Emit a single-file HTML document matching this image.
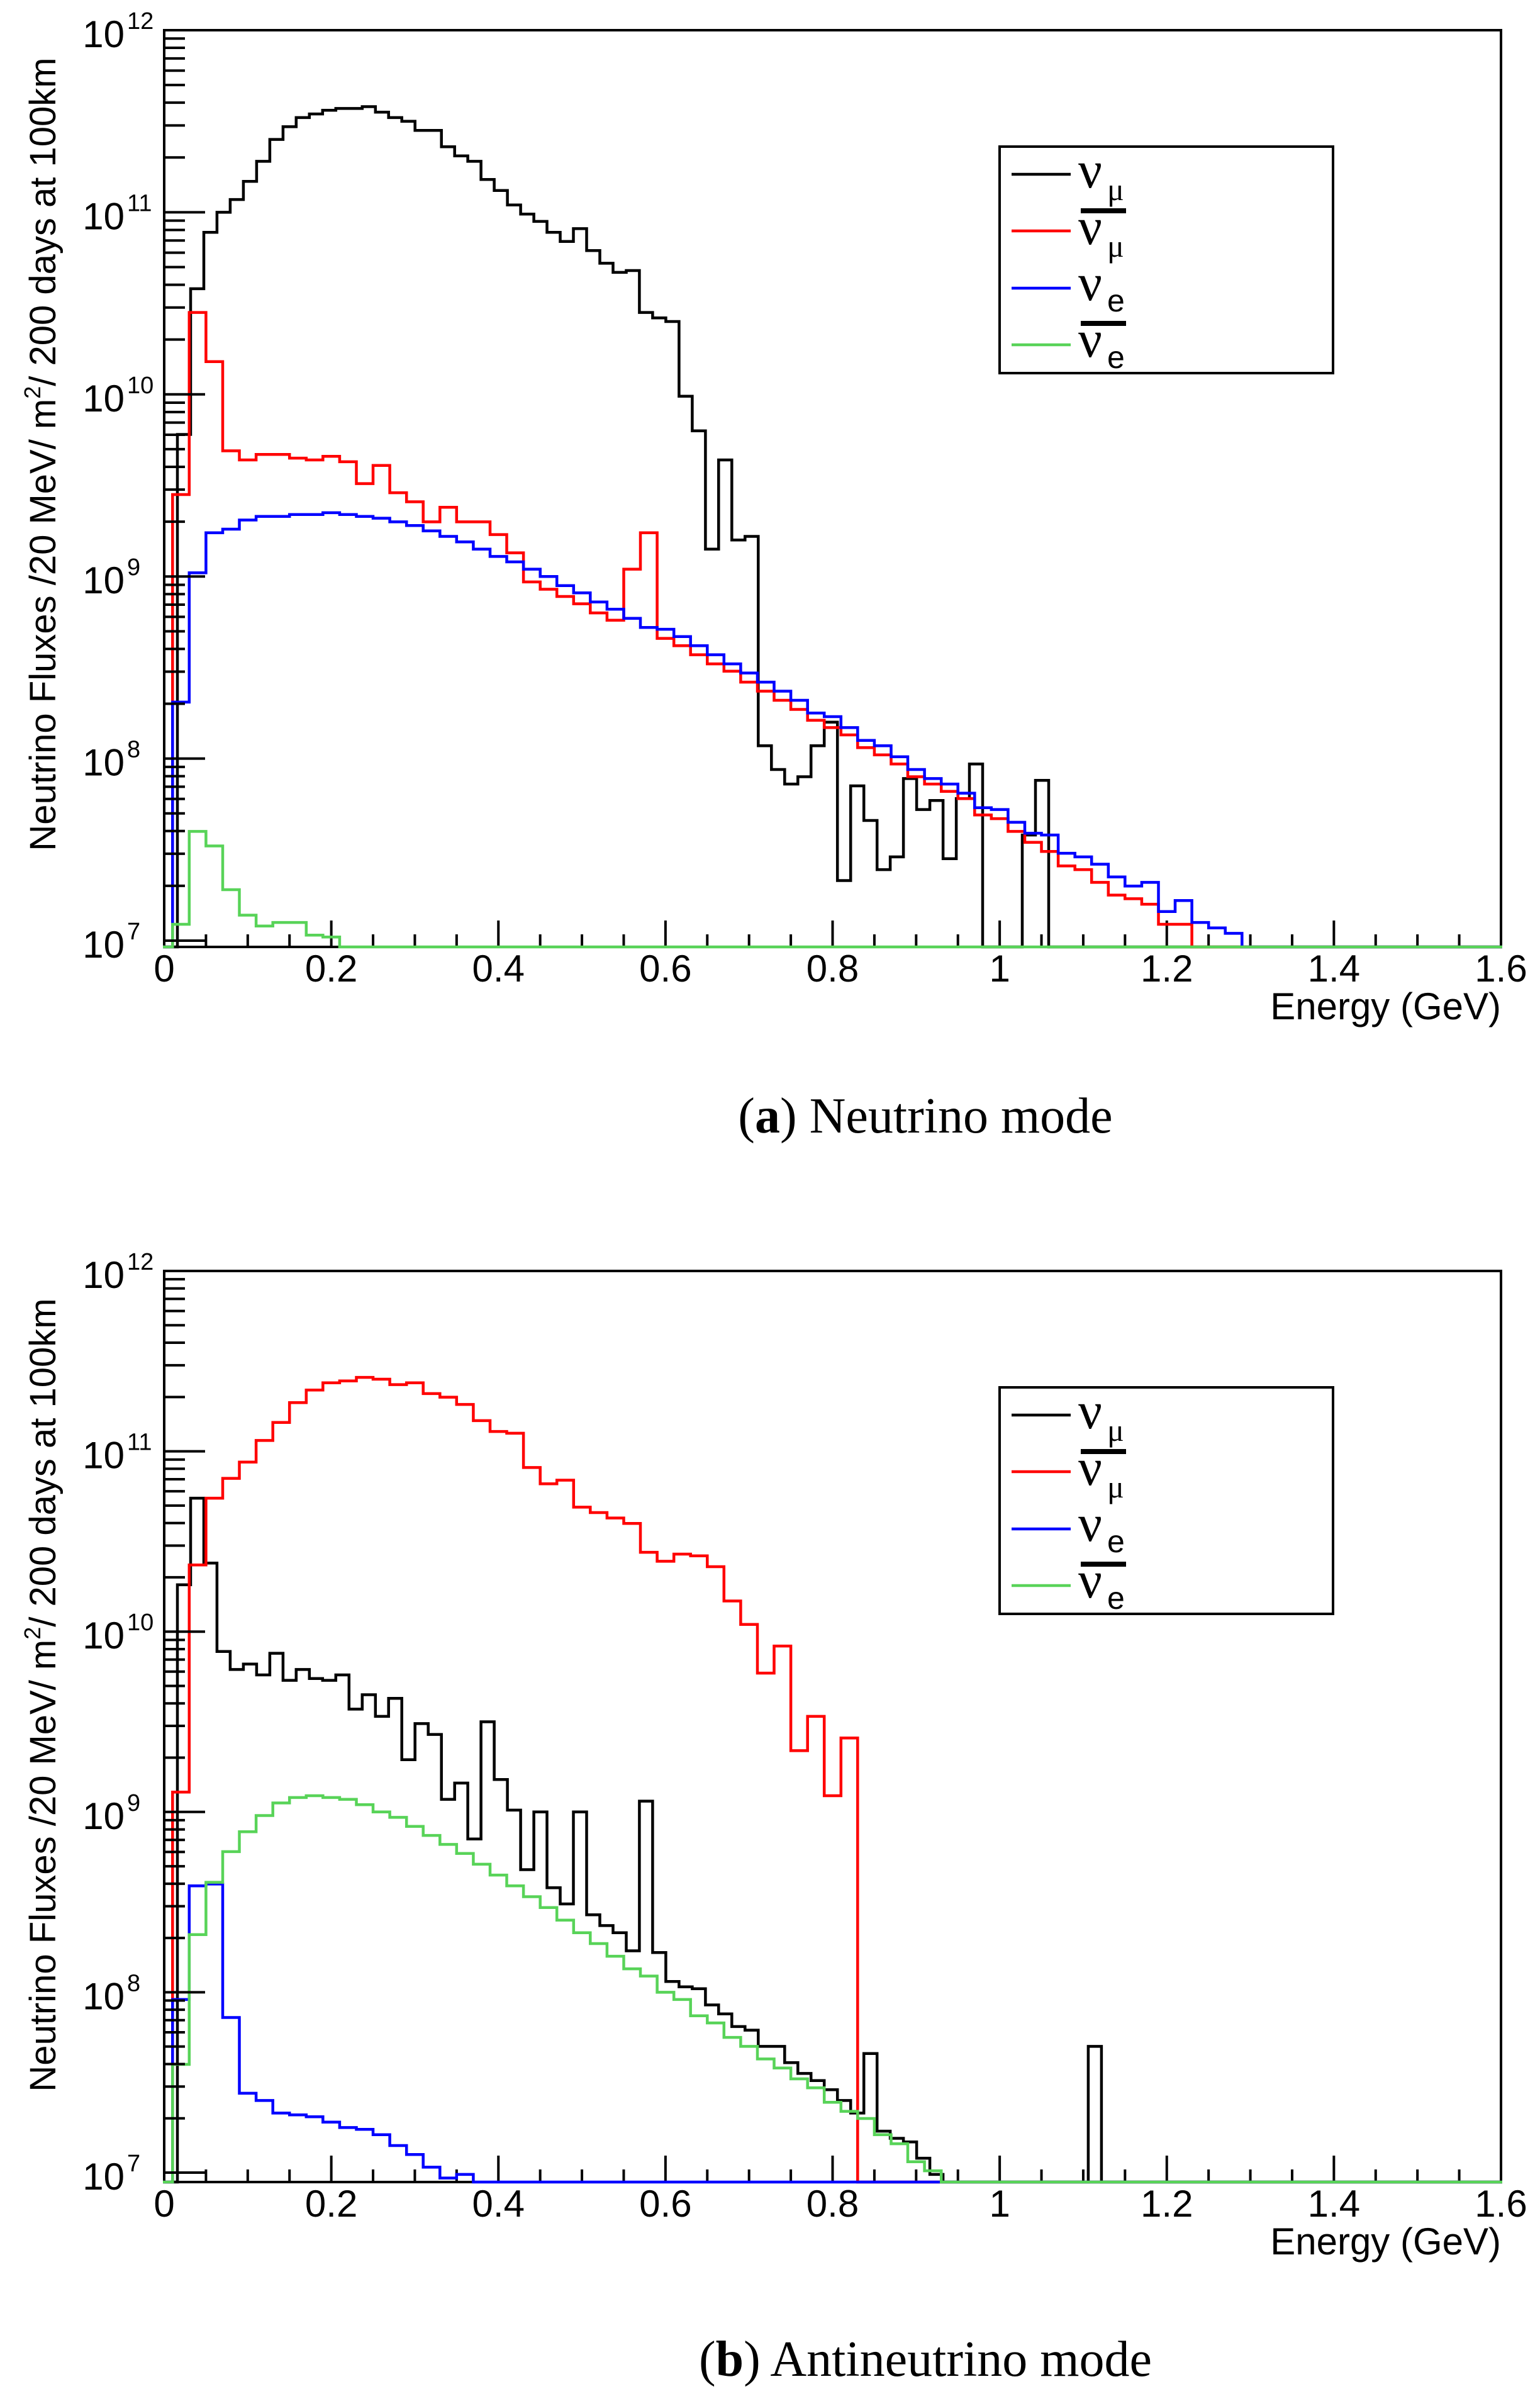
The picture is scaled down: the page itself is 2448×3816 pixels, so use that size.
<!DOCTYPE html>
<html><head><meta charset="utf-8"><title>Neutrino fluxes</title>
<style>
html,body{margin:0;padding:0;background:#fff;}
svg{display:block;}
text{font-family:"Liberation Sans",sans-serif;fill:#000;}
.serif{font-family:"Liberation Serif",serif;}
</style></head>
<body>
<svg id="chart" xmlns="http://www.w3.org/2000/svg" width="2448" height="3816" viewBox="0 0 2448 3816">
<rect x="0" y="0" width="2448" height="3816" fill="#fff"/>
</svg>
<script>
// ---------- data (log10 of flux per bin; null = empty bin) ----------
const binWidthMu = 0.0158;
const binWidthE = 0.02;

// Panel (a) neutrino mode
const aNumu = [null,9.78,10.58,10.89,11.00,11.07,11.17,11.28,11.40,11.47,11.52,11.54,11.56,11.57,11.57,11.58,11.55,11.52,11.50,11.45,11.45,11.36,11.31,11.28,11.18,11.12,11.04,10.99,10.95,10.89,10.84,10.91,10.79,10.72,10.67,10.68,10.45,10.42,10.40,9.99,9.80,9.15,9.64,9.20,9.22,8.07,7.94,7.86,7.90,8.07,8.20,7.33,7.85,7.66,7.39,7.46,7.89,7.72,7.77,7.45,7.78,7.97,null,null,null,7.58,7.88,null];
const aNumubar = [null,9.45,10.45,10.18,9.69,9.64,9.67,9.67,9.65,9.64,9.66,9.63,9.51,9.61,9.46,9.41,9.30,9.38,9.30,9.30,9.23,9.13,8.97,8.93,8.89,8.85,8.80,8.76,9.04,9.24,8.66,8.62,8.57,8.52,8.48,8.42,8.37,8.32,8.27,8.21,8.17,8.13,8.06,8.02,7.97,7.90,7.86,7.82,7.78,7.69,7.67,7.60,7.54,7.49,7.41,7.39,7.32,7.25,7.23,7.20,7.09,7.09,null];
const aNue = [null,8.31,9.02,9.24,9.26,9.31,9.33,9.33,9.34,9.34,9.35,9.34,9.33,9.32,9.30,9.28,9.25,9.22,9.19,9.15,9.11,9.08,9.04,9.00,8.95,8.91,8.86,8.82,8.77,8.72,8.71,8.67,8.62,8.57,8.52,8.47,8.42,8.37,8.32,8.25,8.23,8.17,8.10,8.07,8.01,7.94,7.89,7.86,7.81,7.73,7.72,7.65,7.59,7.58,7.48,7.46,7.42,7.35,7.30,7.32,7.16,7.22,7.10,7.07,7.04,null];
const aNuebar = [null,7.09,7.60,7.52,7.28,7.14,7.08,7.10,7.10,7.03,7.02,null];

// Panel (b) antineutrino mode
const bNumu = [null,10.26,10.74,10.38,9.89,9.79,9.82,9.76,9.88,9.73,9.79,9.74,9.73,9.76,9.57,9.65,9.53,9.63,9.29,9.49,9.43,9.07,9.16,8.85,9.50,9.18,9.01,8.68,9.00,8.58,8.49,9.00,8.43,8.37,8.33,8.23,9.06,8.22,8.06,8.03,8.02,7.93,7.88,7.81,7.79,7.70,7.70,7.61,7.55,7.51,7.46,7.40,7.33,7.66,7.23,7.19,7.17,7.08,6.99,null,null,null,null,null,null,null,null,null,null,null,7.70,null];
const bNumubar = [null,9.11,10.37,10.74,10.85,10.94,11.06,11.16,11.27,11.34,11.38,11.39,11.41,11.40,11.37,11.38,11.32,11.30,11.26,11.17,11.11,11.10,10.91,10.82,10.84,10.69,10.66,10.63,10.60,10.44,10.39,10.43,10.42,10.36,10.17,10.04,9.77,9.92,9.34,9.53,9.09,9.41,null];
const bNue = [null,7.96,8.59,8.60,7.86,7.44,7.40,7.33,7.32,7.31,7.28,7.25,7.24,7.21,7.15,7.10,7.03,6.97,6.99,null];
const bNuebar = [null,7.60,8.32,8.61,8.78,8.89,8.98,9.05,9.08,9.09,9.08,9.07,9.04,9.00,8.97,8.92,8.87,8.82,8.77,8.71,8.65,8.59,8.53,8.47,8.40,8.33,8.27,8.20,8.13,8.09,8.00,7.96,7.87,7.83,7.75,7.70,7.63,7.58,7.52,7.47,7.39,7.34,7.30,7.21,7.16,7.06,7.01,null];

const xTickLabels = ["0","0.2","0.4","0.6","0.8","1","1.2","1.4","1.6"];
const xTickValues = [0,0.2,0.4,0.6,0.8,1.0,1.2,1.4,1.6];
const yDecades = [7,8,9,10,11,12];
const legendLabels = ["μ","μ","e","e"];
const legendBars = [false,true,false,true];
const seriesColors = ["#000000","#ff0000","#0000ff","#58d358"];
const seriesNames = ["numu","numubar","nue","nuebar"];

// ---------- drawing ----------
const NS = "http://www.w3.org/2000/svg";
const svg = document.getElementById("chart");
function mk(tag, attrs, parent){
  const e = document.createElementNS(NS, tag);
  for (const k in attrs) e.setAttribute(k, attrs[k]);
  (parent||svg).appendChild(e);
  return e;
}

function drawPanel(p){
  const g = mk("g", {});
  
  
  const L = 261, R = 2386, T = p.top, B = p.bottom;
  const y12 = p.top, dec = p.dec;
  const xs = E => L + (R - L) * E / 1.6;
  const ys = lg => y12 + (12 - lg) * dec;
  const yClamp = lg => (lg === null || lg === undefined) ? B : Math.min(B, ys(lg));

  const clipId = "clip-" + p.name;
  const defs = mk("defs", {}, g);
  const cp = mk("clipPath", {id: clipId}, defs);
  mk("rect", {x: L - 2, y: T, width: R - L + 4, height: B - T + 4}, cp);

  // frame
  const frame = mk("rect", {x: L, y: T, width: R - L, height: B - T, fill: "none", stroke: "#000", "stroke-width": 4}, g);
  
  

  // x ticks
  for (let v = 0; v <= 1.6001; v += 0.05) {
    const major = Math.abs(v / 0.2 - Math.round(v / 0.2)) < 1e-6;
    const x = xs(v);
    const t = mk("line", {x1: x, x2: x, y1: B, y2: B - (major ? 42 : 20), stroke: "#000", "stroke-width": 4}, g);
    
    
  }

  // histograms
  const seriesData = [p.numu, p.numubar, p.nue, p.nuebar];
  seriesData.forEach((vals, si) => {
    let d = "";
    let edge = i => 0;
    if (si === 0) { edge = i => i * binWidthMu; }
    else { edge = i => i * binWidthE - binWidthE / 2; }
    const x0 = xs(edge(0));
    d += "M" + x0.toFixed(1) + "," + B;
    for (let i = 0; i < vals.length; i++) {
      const yv = yClamp(vals[i]);
      d += " L" + xs(edge(i)).toFixed(1) + "," + yv.toFixed(1);
      d += " L" + xs(edge(i + 1)).toFixed(1) + "," + yv.toFixed(1);
    }
    d += " L" + xs(edge(vals.length)).toFixed(1) + "," + B + " L" + (R + 10) + "," + B;
    const path = mk("path", {d: d, fill: "none", stroke: seriesColors[si], "stroke-width": 4.5, "clip-path": "url(#" + clipId + ")"}, g);
    
    
  });

  xTickLabels.forEach((lab, i) => {
    const t = mk("text", {x: xs(xTickValues[i]), y: B + 55, "font-size": 60, "text-anchor": "middle"}, g);
    t.textContent = lab;
    
    
  });
  const xt = mk("text", {x: R, y: B + 115, "font-size": 60, "text-anchor": "end"}, g);
  xt.textContent = "Energy (GeV)";
  
  

  // y ticks
  yDecades.forEach(dc => {
    const y = ys(dc);
    const t = mk("line", {x1: L, x2: L + 65, y1: y, y2: y, stroke: "#000", "stroke-width": 4}, g);
    
    
    if (dc < 12) {
      for (let m = 2; m <= 9; m++) {
        const ym = ys(dc + Math.log10(m));
        const tm = mk("line", {x1: L, x2: L + 33, y1: ym, y2: ym, stroke: "#000", "stroke-width": 4}, g);
        
        
      }
    }
    const lab = mk("text", {x: 198, y: y + 27, "font-size": 60, "text-anchor": "end"}, g);
    lab.textContent = "10";
    
    
    const sup = mk("text", {x: 202, y: y - 2, "font-size": 38, "text-anchor": "start"}, g);
    sup.textContent = String(dc);
    
    
  });

  // y title
  const cy = p.top + 674;
  const yt = mk("text", {x: 0, y: 0, "font-size": 58, "text-anchor": "middle", transform: "translate(88," + cy + ") rotate(-90)"}, g);
  
  
  const s1 = mk("tspan", {}, yt); s1.textContent = "Neutrino Fluxes /20 MeV/ m";
  const s2 = mk("tspan", {"font-size": 36, dy: -24}, yt); s2.textContent = "2";
  const s3 = mk("tspan", {dy: 24}, yt); s3.textContent = "/ 200 days at 100km";

  // legend
  const lo = p.top - 48;
  const lg = mk("g", {}, g);
  
  
  mk("rect", {x: 1589, y: 233 + lo, width: 530, height: 360, fill: "#fff", stroke: "#000", "stroke-width": 4}, lg);
  const rowLine = [277, 367, 458, 548];
  const nuBase = [298, 388, 477, 567];
  const subBase = [318, 408, 495, 585];
  for (let i = 0; i < 4; i++) {
    const ln = mk("line", {x1: 1608, x2: 1702, y1: rowLine[i] + lo, y2: rowLine[i] + lo, stroke: seriesColors[i], "stroke-width": 4.5}, lg);
    
    
    const nu = mk("text", {x: 1714, y: nuBase[i] + lo, "font-size": 84, "class": "serif"}, lg);
    nu.textContent = "ν";
    
    
    const sb = mk("text", {x: 1760, y: subBase[i] + lo, "font-size": 50, "class": legendLabels[i] === "μ" ? "serif" : ""}, lg);
    sb.textContent = legendLabels[i];
    
    
    if (legendBars[i]) {
      const bar = mk("rect", {x: 1718, y: nuBase[i] - 57 + lo, width: 72, height: 8, fill: "#000"}, lg);
      
      
    }
  }

  // caption
  const cap = mk("text", {x: 1471, y: p.captionY, "font-size": 80, "text-anchor": "middle", "class": "serif"}, g);
  
  
  const c1 = mk("tspan", {}, cap); c1.textContent = "(";
  const c2 = mk("tspan", {"font-weight": "bold"}, cap); c2.textContent = p.letter;
  const c3 = mk("tspan", {}, cap); c3.textContent = ") " + p.caption;
}

drawPanel({name: "panel-neutrino-mode", top: 48, bottom: 1505, dec: 289.4,
  numu: aNumu, numubar: aNumubar, nue: aNue, nuebar: aNuebar,
  letter: "a", caption: "Neutrino mode", captionY: 1800});
drawPanel({name: "panel-antineutrino-mode", top: 2020, bottom: 3468, dec: 286.6,
  numu: bNumu, numubar: bNumubar, nue: bNue, nuebar: bNuebar,
  letter: "b", caption: "Antineutrino mode", captionY: 3776});
</script>
</body></html>
